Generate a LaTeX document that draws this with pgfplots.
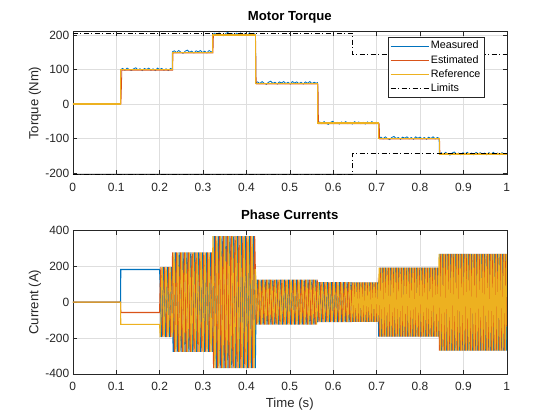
\documentclass[border=0pt]{standalone}
\usepackage{fontspec}
\setmainfont{Liberation Sans}
\usepackage{pgfplots}
\usepackage{pgfplotstable}
\pgfplotsset{compat=1.18}
\definecolor{mblue}{rgb}{0,0.447,0.741}
\definecolor{morange}{rgb}{0.850,0.325,0.098}
\definecolor{myellow}{rgb}{0.929,0.694,0.125}
\definecolor{axgray}{rgb}{0.15,0.15,0.15}
\definecolor{gridgray}{rgb}{0.87,0.87,0.87}

\pgfplotstableread{
t a b c
0 0 0 0
0.11 0 0 0
0.1105 182 -58 -124
0.2 182 -58 -124
0.2015 98 98 -195
0.2030 -98 195 -98
0.2045 -195 98 98
0.2060 -98 -98 195
0.2075 98 -195 98
0.2090 195 -98 -98
0.2105 98 98 -195
0.2120 -98 195 -98
0.2135 -195 98 98
0.2150 -98 -98 195
0.2165 98 -195 98
0.2180 195 -98 -98
0.2195 98 98 -195
0.2210 -98 195 -98
0.2225 -195 98 98
0.2240 -98 -98 195
0.2255 98 -195 98
0.2270 195 -98 -98
0.2285 98 98 -195
0.2300 -139 278 -139
0.2315 -278 139 139
0.2330 -139 -139 278
0.2345 139 -278 139
0.2360 278 -139 -139
0.2375 139 139 -278
0.2390 -139 278 -139
0.2405 -278 139 139
0.2420 -139 -139 278
0.2435 139 -278 139
0.2450 278 -139 -139
0.2465 139 139 -278
0.2480 -139 278 -139
0.2495 -278 139 139
0.2510 -139 -139 278
0.2525 139 -278 139
0.2540 278 -139 -139
0.2555 139 139 -278
0.2570 -139 278 -139
0.2585 -278 139 139
0.2600 -139 -139 278
0.2615 139 -278 139
0.2630 278 -139 -139
0.2645 139 139 -278
0.2660 -139 278 -139
0.2675 -278 139 139
0.2690 -139 -139 278
0.2705 139 -278 139
0.2720 278 -139 -139
0.2735 139 139 -278
0.2750 -139 278 -139
0.2765 -278 139 139
0.2780 -139 -139 278
0.2795 139 -278 139
0.2810 278 -139 -139
0.2825 139 139 -278
0.2840 -139 278 -139
0.2855 -278 139 139
0.2870 -139 -139 278
0.2885 139 -278 139
0.2900 278 -139 -139
0.2915 139 139 -278
0.2930 -139 278 -139
0.2945 -278 139 139
0.2960 -139 -139 278
0.2975 139 -278 139
0.2990 278 -139 -139
0.3005 139 139 -278
0.3020 -139 278 -139
0.3035 -278 139 139
0.3050 -139 -139 278
0.3065 139 -278 139
0.3080 278 -139 -139
0.3095 139 139 -278
0.3110 -139 278 -139
0.3125 -278 139 139
0.3140 -139 -139 278
0.3155 139 -278 139
0.3170 278 -139 -139
0.3185 139 139 -278
0.3200 -139 278 -139
0.3215 -278 139 139
0.3230 -184 -184 368
0.3245 184 -368 184
0.3260 368 -184 -184
0.3275 184 184 -368
0.3290 -184 368 -184
0.3305 -368 184 184
0.3320 -184 -184 368
0.3335 184 -368 184
0.3350 368 -184 -184
0.3365 184 184 -368
0.3380 -184 368 -184
0.3395 -368 184 184
0.3410 -184 -184 368
0.3425 184 -368 184
0.3440 368 -184 -184
0.3455 184 184 -368
0.3470 -184 368 -184
0.3485 -368 184 184
0.3500 -184 -184 368
0.3515 184 -368 184
0.3530 368 -184 -184
0.3545 184 184 -368
0.3560 -184 368 -184
0.3575 -368 184 184
0.3590 -184 -184 368
0.3605 184 -368 184
0.3620 368 -184 -184
0.3635 184 184 -368
0.3650 -184 368 -184
0.3665 -368 184 184
0.3680 -184 -184 368
0.3695 184 -368 184
0.3710 368 -184 -184
0.3725 184 184 -368
0.3740 -184 368 -184
0.3755 -368 184 184
0.3770 -184 -184 368
0.3785 184 -368 184
0.3800 368 -184 -184
0.3815 184 184 -368
0.3830 -184 368 -184
0.3845 -368 184 184
0.3860 -184 -184 368
0.3875 184 -368 184
0.3890 368 -184 -184
0.3905 184 184 -368
0.3920 -184 368 -184
0.3935 -368 184 184
0.3950 -184 -184 368
0.3965 184 -368 184
0.3980 368 -184 -184
0.3995 184 184 -368
0.4010 -184 368 -184
0.4025 -368 184 184
0.4040 -184 -184 368
0.4055 184 -368 184
0.4070 368 -184 -184
0.4085 184 184 -368
0.4100 -184 368 -184
0.4115 -368 184 184
0.4130 -184 -184 368
0.4145 184 -368 184
0.4160 368 -184 -184
0.4175 184 184 -368
0.4190 -184 368 -184
0.4205 -368 184 184
0.4220 -62 -62 125
0.4235 62 -125 62
0.4250 125 -62 -62
0.4265 62 62 -125
0.4280 -62 125 -62
0.4295 -125 62 62
0.4310 -62 -62 125
0.4325 62 -125 62
0.4340 125 -62 -62
0.4355 62 62 -125
0.4370 -62 125 -62
0.4385 -125 62 62
0.4400 -62 -62 125
0.4415 62 -125 62
0.4430 125 -62 -62
0.4445 62 62 -125
0.4460 -62 125 -62
0.4475 -125 62 62
0.4490 -62 -62 125
0.4505 62 -125 62
0.4520 125 -62 -62
0.4535 62 62 -125
0.4550 -62 125 -62
0.4565 -125 62 62
0.4580 -62 -62 125
0.4595 62 -125 62
0.4610 125 -62 -62
0.4625 62 62 -125
0.4640 -62 125 -62
0.4655 -125 62 62
0.4670 -62 -62 125
0.4685 62 -125 62
0.4700 125 -62 -62
0.4715 62 62 -125
0.4730 -62 125 -62
0.4745 -125 62 62
0.4760 -62 -62 125
0.4775 62 -125 62
0.4790 125 -62 -62
0.4805 62 62 -125
0.4820 -62 125 -62
0.4835 -125 62 62
0.4850 -62 -62 125
0.4865 62 -125 62
0.4880 125 -62 -62
0.4895 62 62 -125
0.4910 -62 125 -62
0.4925 -125 62 62
0.4940 -62 -62 125
0.4955 62 -125 62
0.4970 125 -62 -62
0.4985 62 62 -125
0.5000 -62 125 -62
0.5015 -125 62 62
0.5030 -62 -62 125
0.5045 62 -125 62
0.5060 125 -62 -62
0.5075 62 62 -125
0.5090 -62 125 -62
0.5105 -125 62 62
0.5120 -62 -62 125
0.5135 62 -125 62
0.5150 125 -62 -62
0.5165 62 62 -125
0.5180 -62 125 -62
0.5195 -125 62 62
0.5210 -62 -62 125
0.5225 62 -125 62
0.5240 125 -62 -62
0.5255 62 62 -125
0.5270 -62 125 -62
0.5285 -125 62 62
0.5300 -62 -62 125
0.5315 62 -125 62
0.5330 125 -62 -62
0.5345 62 62 -125
0.5360 -62 125 -62
0.5375 -125 62 62
0.5390 -62 -62 125
0.5405 62 -125 62
0.5420 125 -62 -62
0.5435 62 62 -125
0.5450 -62 125 -62
0.5465 -125 62 62
0.5480 -62 -62 125
0.5495 62 -125 62
0.5510 125 -62 -62
0.5525 62 62 -125
0.5540 -62 125 -62
0.5555 -125 62 62
0.5570 -62 -62 125
0.5585 62 -125 62
0.5600 125 -62 -62
0.5615 62 62 -125
0.5630 -62 125 -62
0.5645 -112 56 56
0.5660 -56 -56 112
0.5675 56 -112 56
0.5690 112 -56 -56
0.5705 56 56 -112
0.5720 -56 112 -56
0.5735 -112 56 56
0.5750 -56 -56 112
0.5765 56 -112 56
0.5780 112 -56 -56
0.5795 56 56 -112
0.5810 -56 112 -56
0.5825 -112 56 56
0.5840 -56 -56 112
0.5855 56 -112 56
0.5870 112 -56 -56
0.5885 56 56 -112
0.5900 -56 112 -56
0.5915 -112 56 56
0.5930 -56 -56 112
0.5945 56 -112 56
0.5960 112 -56 -56
0.5975 56 56 -112
0.5990 -56 112 -56
0.6005 -112 56 56
0.6020 -56 -56 112
0.6035 56 -112 56
0.6050 112 -56 -56
0.6065 56 56 -112
0.6080 -56 112 -56
0.6095 -112 56 56
0.6110 -56 -56 112
0.6125 56 -112 56
0.6140 112 -56 -56
0.6155 56 56 -112
0.6170 -56 112 -56
0.6185 -112 56 56
0.6200 -56 -56 112
0.6215 56 -112 56
0.6230 112 -56 -56
0.6245 56 56 -112
0.6260 -56 112 -56
0.6275 -112 56 56
0.6290 -56 -56 112
0.6305 56 -112 56
0.6320 112 -56 -56
0.6335 56 56 -112
0.6350 -56 112 -56
0.6365 -112 56 56
0.6380 -56 -56 112
0.6395 56 -112 56
0.6410 112 -56 -56
0.6425 56 56 -112
0.644 -55 110 -55
0.645 -110 55 55
0.646 -55 -55 110
0.647 55 -110 55
0.648 110 -55 -55
0.649 55 55 -110
0.650 -55 110 -55
0.651 -110 55 55
0.652 -55 -55 110
0.653 55 -110 55
0.654 110 -55 -55
0.655 55 55 -110
0.656 -55 110 -55
0.657 -110 55 55
0.658 -55 -55 110
0.659 55 -110 55
0.660 110 -55 -55
0.661 55 55 -110
0.662 -55 110 -55
0.663 -110 55 55
0.664 -55 -55 110
0.665 55 -110 55
0.666 110 -55 -55
0.667 55 55 -110
0.668 -55 110 -55
0.669 -110 55 55
0.670 -55 -55 110
0.671 55 -110 55
0.672 110 -55 -55
0.673 55 55 -110
0.674 -55 110 -55
0.675 -110 55 55
0.676 -55 -55 110
0.677 55 -110 55
0.678 110 -55 -55
0.679 55 55 -110
0.680 -55 110 -55
0.681 -110 55 55
0.682 -55 -55 110
0.683 55 -110 55
0.684 110 -55 -55
0.685 55 55 -110
0.686 -55 110 -55
0.687 -110 55 55
0.688 -55 -55 110
0.689 55 -110 55
0.690 110 -55 -55
0.691 55 55 -110
0.692 -55 110 -55
0.693 -110 55 55
0.694 -55 -55 110
0.695 55 -110 55
0.696 110 -55 -55
0.697 55 55 -110
0.698 -55 110 -55
0.699 -110 55 55
0.700 -55 -55 110
0.701 55 -110 55
0.702 110 -55 -55
0.703 55 55 -110
0.704 -55 110 -55
0.705 -193 96 96
0.706 -96 -96 193
0.707 96 -193 96
0.708 193 -96 -96
0.709 96 96 -193
0.710 -96 193 -96
0.711 -193 96 96
0.712 -96 -96 193
0.713 96 -193 96
0.714 193 -96 -96
0.715 96 96 -193
0.716 -96 193 -96
0.717 -193 96 96
0.718 -96 -96 193
0.719 96 -193 96
0.720 193 -96 -96
0.721 96 96 -193
0.722 -96 193 -96
0.723 -193 96 96
0.724 -96 -96 193
0.725 96 -193 96
0.726 193 -96 -96
0.727 96 96 -193
0.728 -96 193 -96
0.729 -193 96 96
0.730 -96 -96 193
0.731 96 -193 96
0.732 193 -96 -96
0.733 96 96 -193
0.734 -96 193 -96
0.735 -193 96 96
0.736 -96 -96 193
0.737 96 -193 96
0.738 193 -96 -96
0.739 96 96 -193
0.740 -96 193 -96
0.741 -193 96 96
0.742 -96 -96 193
0.743 96 -193 96
0.744 193 -96 -96
0.745 96 96 -193
0.746 -96 193 -96
0.747 -193 96 96
0.748 -96 -96 193
0.749 96 -193 96
0.750 193 -96 -96
0.751 96 96 -193
0.752 -96 193 -96
0.753 -193 96 96
0.754 -96 -96 193
0.755 96 -193 96
0.756 193 -96 -96
0.757 96 96 -193
0.758 -96 193 -96
0.759 -193 96 96
0.760 -96 -96 193
0.761 96 -193 96
0.762 193 -96 -96
0.763 96 96 -193
0.764 -96 193 -96
0.765 -193 96 96
0.766 -96 -96 193
0.767 96 -193 96
0.768 193 -96 -96
0.769 96 96 -193
0.770 -96 193 -96
0.771 -193 96 96
0.772 -96 -96 193
0.773 96 -193 96
0.774 193 -96 -96
0.775 96 96 -193
0.776 -96 193 -96
0.777 -193 96 96
0.778 -96 -96 193
0.779 96 -193 96
0.780 193 -96 -96
0.781 96 96 -193
0.782 -96 193 -96
0.783 -193 96 96
0.784 -96 -96 193
0.785 96 -193 96
0.786 193 -96 -96
0.787 96 96 -193
0.788 -96 193 -96
0.789 -193 96 96
0.790 -96 -96 193
0.791 96 -193 96
0.792 193 -96 -96
0.793 96 96 -193
0.794 -96 193 -96
0.795 -193 96 96
0.796 -96 -96 193
0.797 96 -193 96
0.798 193 -96 -96
0.799 96 96 -193
0.800 -96 193 -96
0.801 -193 96 96
0.802 -96 -96 193
0.803 96 -193 96
0.804 193 -96 -96
0.805 96 96 -193
0.806 -96 193 -96
0.807 -193 96 96
0.808 -96 -96 193
0.809 96 -193 96
0.810 193 -96 -96
0.811 96 96 -193
0.812 -96 193 -96
0.813 -193 96 96
0.814 -96 -96 193
0.815 96 -193 96
0.816 193 -96 -96
0.817 96 96 -193
0.818 -96 193 -96
0.819 -193 96 96
0.820 -96 -96 193
0.821 96 -193 96
0.822 193 -96 -96
0.823 96 96 -193
0.824 -96 193 -96
0.825 -193 96 96
0.826 -96 -96 193
0.827 96 -193 96
0.828 193 -96 -96
0.829 96 96 -193
0.830 -96 193 -96
0.831 -193 96 96
0.832 -96 -96 193
0.833 96 -193 96
0.834 193 -96 -96
0.835 96 96 -193
0.836 -96 193 -96
0.837 -193 96 96
0.838 -96 -96 193
0.839 96 -193 96
0.840 193 -96 -96
0.841 96 96 -193
0.842 -96 193 -96
0.843 -193 96 96
0.844 -135 -135 270
0.845 135 -270 135
0.846 270 -135 -135
0.847 135 135 -270
0.848 -135 270 -135
0.849 -270 135 135
0.850 -135 -135 270
0.851 135 -270 135
0.852 270 -135 -135
0.853 135 135 -270
0.854 -135 270 -135
0.855 -270 135 135
0.856 -135 -135 270
0.857 135 -270 135
0.858 270 -135 -135
0.859 135 135 -270
0.860 -135 270 -135
0.861 -270 135 135
0.862 -135 -135 270
0.863 135 -270 135
0.864 270 -135 -135
0.865 135 135 -270
0.866 -135 270 -135
0.867 -270 135 135
0.868 -135 -135 270
0.869 135 -270 135
0.870 270 -135 -135
0.871 135 135 -270
0.872 -135 270 -135
0.873 -270 135 135
0.874 -135 -135 270
0.875 135 -270 135
0.876 270 -135 -135
0.877 135 135 -270
0.878 -135 270 -135
0.879 -270 135 135
0.880 -135 -135 270
0.881 135 -270 135
0.882 270 -135 -135
0.883 135 135 -270
0.884 -135 270 -135
0.885 -270 135 135
0.886 -135 -135 270
0.887 135 -270 135
0.888 270 -135 -135
0.889 135 135 -270
0.890 -135 270 -135
0.891 -270 135 135
0.892 -135 -135 270
0.893 135 -270 135
0.894 270 -135 -135
0.895 135 135 -270
0.896 -135 270 -135
0.897 -270 135 135
0.898 -135 -135 270
0.899 135 -270 135
0.900 270 -135 -135
0.901 135 135 -270
0.902 -135 270 -135
0.903 -270 135 135
0.904 -135 -135 270
0.905 135 -270 135
0.906 270 -135 -135
0.907 135 135 -270
0.908 -135 270 -135
0.909 -270 135 135
0.910 -135 -135 270
0.911 135 -270 135
0.912 270 -135 -135
0.913 135 135 -270
0.914 -135 270 -135
0.915 -270 135 135
0.916 -135 -135 270
0.917 135 -270 135
0.918 270 -135 -135
0.919 135 135 -270
0.920 -135 270 -135
0.921 -270 135 135
0.922 -135 -135 270
0.923 135 -270 135
0.924 270 -135 -135
0.925 135 135 -270
0.926 -135 270 -135
0.927 -270 135 135
0.928 -135 -135 270
0.929 135 -270 135
0.930 270 -135 -135
0.931 135 135 -270
0.932 -135 270 -135
0.933 -270 135 135
0.934 -135 -135 270
0.935 135 -270 135
0.936 270 -135 -135
0.937 135 135 -270
0.938 -135 270 -135
0.939 -270 135 135
0.940 -135 -135 270
0.941 135 -270 135
0.942 270 -135 -135
0.943 135 135 -270
0.944 -135 270 -135
0.945 -270 135 135
0.946 -135 -135 270
0.947 135 -270 135
0.948 270 -135 -135
0.949 135 135 -270
0.950 -135 270 -135
0.951 -270 135 135
0.952 -135 -135 270
0.953 135 -270 135
0.954 270 -135 -135
0.955 135 135 -270
0.956 -135 270 -135
0.957 -270 135 135
0.958 -135 -135 270
0.959 135 -270 135
0.960 270 -135 -135
0.961 135 135 -270
0.962 -135 270 -135
0.963 -270 135 135
0.964 -135 -135 270
0.965 135 -270 135
0.966 270 -135 -135
0.967 135 135 -270
0.968 -135 270 -135
0.969 -270 135 135
0.970 -135 -135 270
0.971 135 -270 135
0.972 270 -135 -135
0.973 135 135 -270
0.974 -135 270 -135
0.975 -270 135 135
0.976 -135 -135 270
0.977 135 -270 135
0.978 270 -135 -135
0.979 135 135 -270
0.980 -135 270 -135
0.981 -270 135 135
0.982 -135 -135 270
0.983 135 -270 135
0.984 270 -135 -135
0.985 135 135 -270
0.986 -135 270 -135
0.987 -270 135 135
0.988 -135 -135 270
0.989 135 -270 135
0.990 270 -135 -135
0.991 135 135 -270
0.992 -135 270 -135
0.993 -270 135 135
0.994 -135 -135 270
0.995 135 -270 135
0.996 270 -135 -135
0.997 135 135 -270
0.998 -135 270 -135
0.999 -270 135 135
1.000 -135 -135 270
}\cur

\pgfplotsset{
  mlab/.style={
    scale only axis, width=434bp, height=143.3bp,
    xmin=0, xmax=1,
    xtick={0,0.1,0.2,0.3,0.4,0.5,0.6,0.7,0.8,0.9,1},
    tick align=inside, xtick pos=both, ytick pos=both,
    xticklabel pos=bottom, yticklabel pos=left,
    major tick length=4.3bp,
    axis line style={draw=axgray, line width=0.6bp},
    tick style={draw=axgray, line width=0.6bp},
    grid=major, grid style={draw=gridgray, line width=0.5bp},
    /pgf/number format/assume math mode=true,
    tick label style={font=\fontsize{12}{14}\selectfont, text=axgray},
    xticklabel style={yshift=-5bp},
    label style={font=\fontsize{13.2}{15}\selectfont, text=axgray},
    title style={font=\bfseries\fontsize{13.2}{15}\selectfont, text=black, anchor=base, at={(axis description cs:0.5,1)}, yshift=5bp},
    xlabel style={anchor=base, at={(axis description cs:0.5,0)}, yshift=-34bp},
    ylabel style={anchor=center, at={(axis description cs:-0.0871,0.5)}},
  }
}

\begin{document}
\begin{tikzpicture}
\useasboundingbox (0,0) rectangle (560bp,420bp);
\begin{axis}[mlab, at={(72.8bp,245.2bp)}, anchor=south west,
  ymin=-205, ymax=210, ytick={-200,-100,0,100,200},
  title={Motor Torque}, ylabel={Torque (Nm)},
  legend style={at={(axis description cs:0.948,0.964)}, anchor=north east, draw=axgray, line width=0.5bp, fill=white,
    font=\fontsize{10.8}{12}\selectfont, text=black, inner sep=2bp, row sep=0.2bp,
    nodes={inner sep=1.5bp, text height=8.4bp, text depth=2.6bp}, cells={anchor=west}},
  legend image code/.code={\draw[#1, line width=0.6bp] (0bp,0bp) -- (38.5bp,0bp);},
]
\addplot[mblue, line width=0.8bp] coordinates {
(0,0)(0.11,0)(0.1105,100)
(0.115,103)(0.12,98)(0.125,104)(0.13,100)(0.135,97)(0.14,102)(0.145,105)(0.15,99)(0.155,102)(0.16,97)(0.165,103)(0.17,100)(0.175,104)(0.18,98)(0.185,102)(0.19,97)(0.195,104)(0.2,100)(0.205,103)(0.21,98)(0.215,102)(0.22,97)(0.225,103)(0.229,100)
(0.2295,151)(0.234,154)(0.239,149)(0.244,155)(0.249,150)(0.254,147)(0.259,153)(0.264,156)(0.269,150)(0.274,153)(0.279,148)(0.284,154)(0.289,151)(0.294,155)(0.299,149)(0.304,153)(0.309,148)(0.314,155)(0.319,151)(0.322,152)
(0.3225,202)(0.327,205)(0.332,200)(0.337,206)(0.342,201)(0.347,198)(0.352,204)(0.357,207)(0.362,201)(0.367,204)(0.372,199)(0.377,205)(0.382,202)(0.387,206)(0.392,200)(0.397,204)(0.402,199)(0.407,206)(0.412,202)(0.417,205)(0.421,201)
(0.4215,61)(0.426,64)(0.431,59)(0.436,65)(0.441,60)(0.446,57)(0.451,63)(0.456,66)(0.461,60)(0.466,63)(0.471,58)(0.476,64)(0.481,61)(0.486,65)(0.491,59)(0.496,63)(0.501,58)(0.506,65)(0.511,61)(0.516,64)(0.521,59)(0.526,63)(0.531,58)(0.536,64)(0.541,60)(0.546,65)(0.551,59)(0.556,63)(0.561,60)(0.564,62)
(0.5645,-55)(0.569,-52)(0.574,-57)(0.579,-51)(0.584,-56)(0.589,-59)(0.594,-53)(0.599,-50)(0.604,-56)(0.609,-53)(0.614,-58)(0.619,-52)(0.624,-55)(0.629,-51)(0.634,-57)(0.639,-53)(0.644,-58)(0.649,-51)(0.654,-55)(0.659,-52)(0.664,-57)(0.669,-53)(0.674,-58)(0.679,-52)(0.684,-56)(0.689,-51)(0.694,-57)(0.699,-53)(0.705,-55)
(0.7055,-99)(0.71,-96)(0.715,-101)(0.72,-95)(0.725,-100)(0.73,-103)(0.735,-97)(0.74,-94)(0.745,-100)(0.75,-97)(0.755,-102)(0.76,-96)(0.765,-99)(0.77,-95)(0.775,-101)(0.78,-97)(0.785,-102)(0.79,-95)(0.795,-99)(0.8,-96)(0.805,-101)(0.81,-97)(0.815,-102)(0.82,-96)(0.825,-100)(0.83,-95)(0.835,-101)(0.84,-97)(0.844,-99)
(0.8445,-144)(0.849,-141)(0.854,-146)(0.859,-140)(0.864,-145)(0.869,-148)(0.874,-142)(0.879,-139)(0.884,-145)(0.889,-142)(0.894,-147)(0.899,-141)(0.904,-144)(0.909,-140)(0.914,-146)(0.919,-142)(0.924,-147)(0.929,-140)(0.934,-144)(0.939,-141)(0.944,-146)(0.949,-142)(0.954,-147)(0.959,-141)(0.964,-145)(0.969,-140)(0.974,-146)(0.979,-142)(0.984,-147)(0.989,-141)(0.994,-145)(1,-143)
};
\addlegendentry{Measured}
\addplot[morange, line width=0.8bp] coordinates {
(0,0)(0.111,0)(0.113,98)(0.23,98)(0.231,148)(0.323,148)(0.324,199)(0.421,199)(0.422,120)(0.4225,58)(0.565,58)(0.566,-57)(0.706,-57)(0.707,-101)(0.845,-101)(0.846,-146)(1,-146)
};
\addlegendentry{Estimated}
\addplot[myellow, line width=1.2bp] coordinates {
(0,0)(0.11,0)(0.11,100)(0.229,100)(0.229,150)(0.322,150)(0.322,200)(0.421,200)(0.421,60)(0.564,60)(0.564,-55)(0.705,-55)(0.705,-100)(0.844,-100)(0.844,-145)(1,-145)
};
\addlegendentry{Reference}
\addplot[black, line width=0.6bp, dash pattern=on 5bp off 2.5bp on 1bp off 2.5bp] coordinates {
(0,205)(0.644,205)(0.644,144)(1,144)
};
\addlegendentry{Limits}
\addplot[black, line width=0.6bp, dash pattern=on 5bp off 2.5bp on 1bp off 2.5bp, forget plot] coordinates {
(0,-205)(0.644,-205)(0.644,-144)(1,-144)
};
\end{axis}

\begin{axis}[mlab, at={(72.8bp,46.2bp)}, anchor=south west,
  ymin=-400, ymax=400, ytick={-400,-200,0,200,400},
  title={Phase Currents}, ylabel={Current (A)}, xlabel={Time (s)},
]
\addplot[mblue, line width=1.1bp] table[x=t, y=a] {\cur};
\addplot[morange, line width=1.1bp] table[x=t, y=b] {\cur};
\addplot[myellow, line width=1.1bp] table[x=t, y=c] {\cur};
\end{axis}
\end{tikzpicture}
\end{document}
